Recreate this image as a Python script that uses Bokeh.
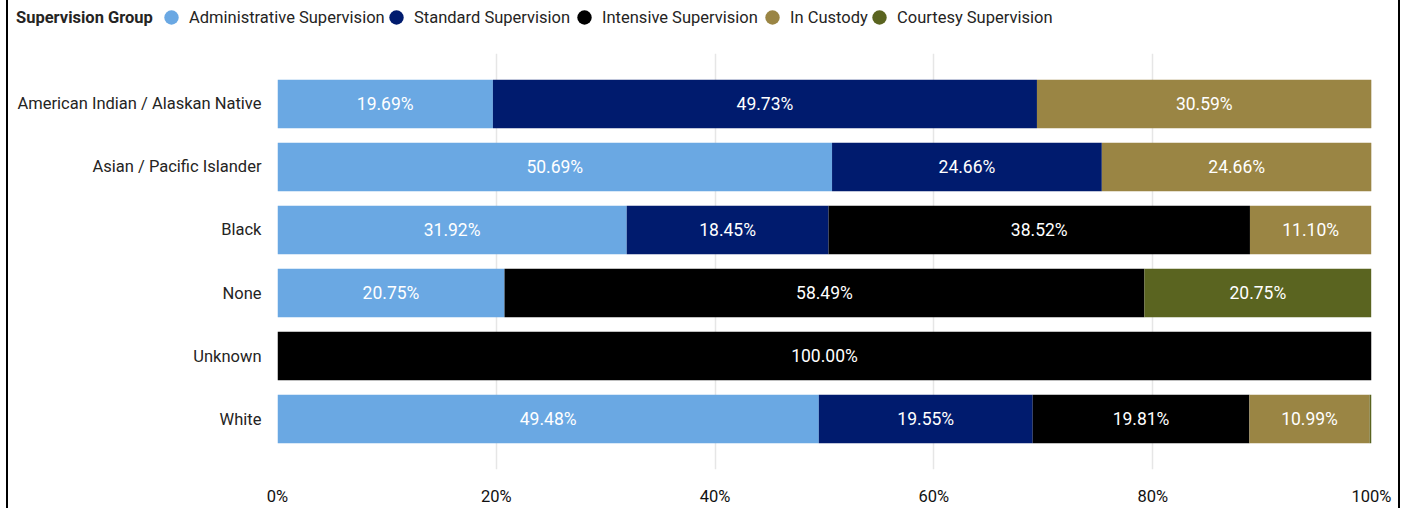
from bokeh.plotting import figure
from bokeh.models import (FactorRange, Range1d, FixedTicker, PrintfTickFormatter,
                          Legend, LegendItem, ColumnDataSource)
from bokeh.core.properties import value
from bokeh.embed import file_html
from bokeh.resources import INLINE

categories = ["American Indian / Alaskan Native", "Asian / Pacific Islander", "Black",
              "None", "Unknown", "White"]
series = ["Administrative Supervision", "Standard Supervision", "Intensive Supervision",
          "In Custody", "Courtesy Supervision"]
admin = [19.69, 50.69, 31.92, 20.75, 0.00, 49.48]
standard = [49.73, 24.66, 18.45, 0.00, 0.00, 19.55]
intensive = [0.00, 0.00, 38.52, 58.49, 100.00, 19.81]
custody = [30.59, 24.66, 11.10, 0.00, 0.00, 10.99]
courtesy = [0.00, 0.00, 0.00, 20.75, 0.00, 0.17]
colors = ["#6AA8E3", "#001B6E", "#000000", "#9A8544", "#5A6420"]
x_ticks = [0, 20, 40, 60, 80, 100]
legend_title = "Supervision Group"

FONT = "Roboto"
TXT = "#252423"
BORDER = {"border-left": "2px solid #000", "border-right": "2px solid #000"}

# ---------- legend strip ----------
pl = figure(width=1394, height=53, x_range=Range1d(0, 1), y_range=Range1d(0, 1),
            output_backend="svg", toolbar_location=None,
            min_border_left=0, min_border_right=0, min_border_top=0, min_border_bottom=0,
            margin=(0, 0, 0, 6), styles=BORDER)
pl.axis.visible = False
pl.grid.visible = False
pl.outline_line_color = None

# legend-only renderers; their single point lies outside the visible range
dummy = pl.scatter(x=[-10], y=[-10], fill_alpha=0, line_alpha=0)
icons = [pl.scatter(x=[-10], y=[-10], marker="circle", fill_color=c, line_color=None)
         for c in colors]

LEG_Y = 16
common = dict(padding=0, margin=0, background_fill_alpha=0, border_line_color=None,
              label_text_font=FONT, label_text_color=TXT, label_text_font_size="16.5px",
              glyph_height=40, label_standoff=0, spacing=0)
pl.add_layout(Legend(items=[LegendItem(label=legend_title, renderers=[dummy])],
                     location=(7, LEG_Y), glyph_width=1,
                     label_text_font_style="bold", **common))
# horizontal offsets of the legend entries (layout)
entry_x = [145, 370, 558, 746, 853]
for s, r, ex in zip(series, icons, entry_x):
    pl.add_layout(Legend(items=[LegendItem(label=s, renderers=[r])],
                         location=(ex, LEG_Y), glyph_width=36, **common))

# ---------- main chart ----------
p = figure(
    y_range=FactorRange(factors=categories[::-1], range_padding=0.3,
                        range_padding_units="absolute"),
    x_range=Range1d(0, 100),
    width=1394, height=455,
    output_backend="svg", toolbar_location=None,
    min_border_left=269, min_border_right=31, min_border_top=0, min_border_bottom=28,
    margin=(0, 0, 0, 6), styles=BORDER,
)
p.outline_line_color = None

src = ColumnDataSource(data=dict(cat=categories,
                                 **{series[0]: admin, series[1]: standard,
                                    series[2]: intensive, series[3]: custody,
                                    series[4]: courtesy}))
p.hbar_stack(series, y="cat", height=0.77, color=colors, line_color=None, source=src)

# data labels
all_vals = [admin, standard, intensive, custody, courtesy]
lx, ly, lt = [], [], []
for i, c in enumerate(categories):
    left = 0.0
    for vals in all_vals:
        v = vals[i]
        if v >= 3:
            lx.append(left + v / 2)
            ly.append(c)
            lt.append(f"{v:.2f}%")
        left += v
p.text(x=lx, y=ly, text=lt, text_align="center", text_baseline="middle",
       text_color="white", text_font=value(FONT), text_font_size="17.5px")

# axes
p.xaxis.ticker = FixedTicker(ticks=x_ticks)
p.xaxis.formatter = PrintfTickFormatter(format="%d%%")
p.xgrid.ticker = FixedTicker(ticks=x_ticks)
p.xgrid.grid_line_color = "#E6E6E6"
p.xgrid.grid_line_width = 1.5
p.ygrid.visible = False
for ax in (p.xaxis[0], p.yaxis[0]):
    ax.axis_line_color = None
    ax.major_tick_line_color = None
    ax.minor_tick_line_color = None
    ax.major_label_text_font = FONT
    ax.major_label_text_color = TXT
    ax.major_label_text_font_size = "16.5px"
p.xaxis.major_label_text_color = "#111111"
p.xaxis.major_label_standoff = 11
p.yaxis.major_label_standoff = 10

open("out.html", "w").write(file_html([pl, p], INLINE))
